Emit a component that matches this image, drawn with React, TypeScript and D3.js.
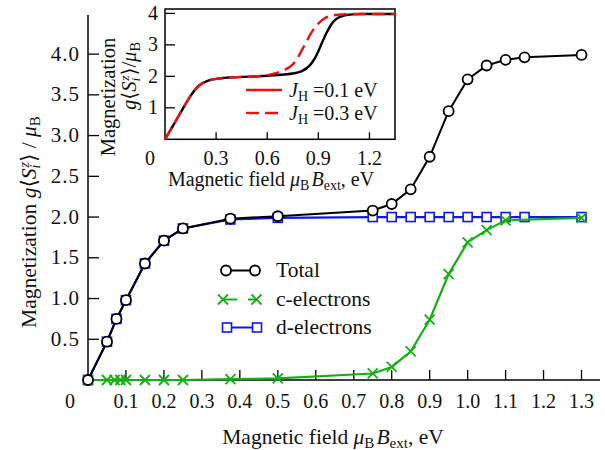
import React from 'react';
import * as d3 from 'd3';

// main panel: magnetization vs field
const totalField = [0, 0.05, 0.075, 0.1, 0.15, 0.2, 0.25, 0.375, 0.5, 0.75, 0.8, 0.85, 0.9, 0.95, 1.0, 1.05, 1.1, 1.15, 1.3];
const totalMag = [0, 0.47, 0.75, 0.98, 1.43, 1.71, 1.86, 1.98, 2.01, 2.08, 2.16, 2.34, 2.74, 3.3, 3.69, 3.86, 3.93, 3.96, 3.99];

const cField = [0, 0.05, 0.07, 0.085, 0.1, 0.15, 0.2, 0.25, 0.375, 0.5, 0.75, 0.8, 0.85, 0.9, 0.95, 1.0, 1.05, 1.1, 1.3];
const cMag = [0, 0, 0, 0, 0, 0, 0, 0, 0.01, 0.02, 0.08, 0.16, 0.35, 0.74, 1.3, 1.69, 1.84, 1.96, 1.99];

const dField = [0, 0.05, 0.075, 0.1, 0.15, 0.2, 0.25, 0.375, 0.5, 0.75, 0.8, 0.85, 0.9, 0.95, 1.0, 1.05, 1.1, 1.15, 1.3];
const dMag = [0, 0.47, 0.75, 0.98, 1.43, 1.71, 1.86, 1.97, 1.99, 2.0, 2.0, 2.0, 2.0, 2.0, 2.0, 2.0, 2.0, 2.0, 2.0];

const xTicks = [0.1, 0.2, 0.3, 0.4, 0.5, 0.6, 0.7, 0.8, 0.9, 1.0, 1.1, 1.2, 1.3];
const yTicks = [0.5, 1.0, 1.5, 2.0, 2.5, 3.0, 3.5, 4.0];

// inset: two Hund couplings
const jh1Field = [0, 0.05, 0.1, 0.15, 0.2, 0.25, 0.3, 0.35, 0.4, 0.5, 0.6, 0.7, 0.75, 0.8, 0.85, 0.88, 0.9, 0.92, 0.95, 0.98, 1.0, 1.05, 1.1, 1.15, 1.2, 1.35];
const jh1Mag = [0, 0.46, 0.93, 1.38, 1.71, 1.86, 1.92, 1.95, 1.97, 1.99, 2.02, 2.06, 2.09, 2.16, 2.35, 2.58, 2.8, 3.05, 3.4, 3.68, 3.8, 3.93, 3.97, 3.98, 3.98, 3.98];
const jh3Field = [0, 0.05, 0.1, 0.15, 0.2, 0.25, 0.3, 0.4, 0.5, 0.6, 0.65, 0.7, 0.75, 0.78, 0.8, 0.83, 0.86, 0.9, 0.95, 1.0, 1.05, 1.1, 1.35];
const jh3Mag = [0, 0.46, 0.93, 1.38, 1.71, 1.86, 1.92, 1.97, 1.99, 2.04, 2.1, 2.2, 2.38, 2.6, 2.8, 3.1, 3.4, 3.68, 3.88, 3.95, 3.97, 3.98, 3.98];

const insetXTicks = [0.3, 0.6, 0.9, 1.2];
const insetYTicks = [1, 2, 3, 4];

const GREEN = '#16ae16';
const BLUE = '#0c18ee';
const RED = '#ee1111';
const FONT = "'Liberation Serif', 'DejaVu Serif', serif";

const zip = (xs: number[], ys: number[]) => xs.map((x, i) => [x, ys[i]] as [number, number]);

const Cross = ({ x, y }: { x: number; y: number }) => (
  <path d={`M${x - 5},${y - 5}L${x + 5},${y + 5}M${x - 5},${y + 5}L${x + 5},${y - 5}`} stroke={GREEN} strokeWidth={1.8} fill="none" />
);

const Square = ({ x, y }: { x: number; y: number }) => (
  <rect x={x - 4.5} y={y - 4.5} width={9} height={9} fill="white" stroke={BLUE} strokeWidth={1.6} />
);

const Circle = ({ x, y }: { x: number; y: number }) => (
  <circle cx={x} cy={y} r={5} fill="white" stroke="black" strokeWidth={1.8} />
);

const FieldLabel = ({ x, y, size }: { x: number; y: number; size: number }) => (
  <text x={x} y={y} textAnchor="middle" fontSize={size}>
    Magnetic field <tspan fontStyle="italic">μ</tspan>
    <tspan fontSize={size * 0.7} dy={4}>B</tspan>
    <tspan fontStyle="italic" dy={-4} dx={2}>B</tspan>
    <tspan fontSize={size * 0.7} dy={4}>ext</tspan>
    <tspan dy={-4}>, eV</tspan>
  </text>
);

const MagSymbol = ({ size, gap }: { size: number; gap: boolean }) => (
  <>
    <tspan fontStyle="italic">g</tspan>⟨<tspan fontStyle="italic">S</tspan>
    <tspan fontSize={size * 0.65} fontStyle="italic" dy={4}>i</tspan>
    <tspan fontSize={size * 0.65} fontStyle="italic" dy={-11} dx={-3}>z</tspan>
    <tspan dy={7}>{gap ? '⟩ / ' : '⟩/'}</tspan>
    <tspan fontStyle="italic">μ</tspan>
    <tspan fontSize={size * 0.7} dy={4}>B</tspan>
  </>
);

export default function App() {
  const x = d3.scaleLinear().domain([0, 1.35]).range([88, 600.5]);
  const y = d3.scaleLinear().domain([0, 4.48]).range([380, 15]);

  const ix = d3.scaleLinear().domain([0, 1.35]).range([165, 395]);
  const iy = d3.scaleLinear().domain([0, 4.14]).range([139.3, 9]);

  const line = d3.line<[number, number]>().x(d => x(d[0])).y(d => y(d[1]));
  const iline = d3.line<[number, number]>().x(d => ix(d[0])).y(d => iy(d[1])).curve(d3.curveMonotoneX);

  const total = zip(totalField, totalMag);
  const cEl = zip(cField, cMag);
  const dEl = zip(dField, dMag);

  return (
    <svg width={605} height={450} style={{ position: 'absolute', left: 0, top: 0, background: 'white', fontFamily: FONT }} fill="#111">
      {/* main axes */}
      <line x1={x(0)} x2={x(0)} y1={y(0)} y2={15} stroke="black" strokeWidth={1.5} />
      <line x1={x(0)} x2={600} y1={y(0)} y2={y(0)} stroke="black" strokeWidth={1.5} />
      {xTicks.map(t => (
        <g key={'xt' + t}>
          <line x1={x(t)} x2={x(t)} y1={y(0)} y2={y(0) - 10} stroke="black" strokeWidth={1.3} />
          <text x={x(t)} y={408} textAnchor="middle" fontSize={20}>{t.toFixed(1)}</text>
        </g>
      ))}
      <text x={70} y={408} textAnchor="middle" fontSize={20}>0</text>
      {yTicks.map(t => (
        <g key={'yt' + t}>
          <line x1={x(0)} x2={x(0) + 11} y1={y(t)} y2={y(t)} stroke="black" strokeWidth={1.3} />
          <text x={80} y={y(t) + 6.5} textAnchor="end" fontSize={21} letterSpacing={1}>{t.toFixed(1)}</text>
        </g>
      ))}
      <FieldLabel x={333} y={444} size={21.5} />
      <text transform="translate(36,222) rotate(-90)" textAnchor="middle" fontSize={21.5}>
        Magnetization <MagSymbol size={21.5} gap={true} />
      </text>

      {/* series */}
      <path d={line(dEl) || ''} fill="none" stroke={BLUE} strokeWidth={2.2} />
      {dEl.map((p, i) => <Square key={'d' + i} x={x(p[0])} y={y(p[1])} />)}
      <path d={line(cEl) || ''} fill="none" stroke={GREEN} strokeWidth={2.2} />
      {cEl.map((p, i) => <Cross key={'c' + i} x={x(p[0])} y={y(p[1])} />)}
      <path d={line(total) || ''} fill="none" stroke="black" strokeWidth={2} />
      {total.map((p, i) => <Circle key={'t' + i} x={x(p[0])} y={y(p[1])} />)}

      {/* legend */}
      <line x1={226} x2={255} y1={270.5} y2={270.5} stroke="black" strokeWidth={2} />
      <Circle x={226} y={270.5} />
      <Circle x={255} y={270.5} />
      <text x={276} y={277} fontSize={21.5}>Total</text>
      <line x1={223} x2={237} y1={299.5} y2={299.5} stroke={GREEN} strokeWidth={2} />
      <line x1={248} x2={257} y1={299.5} y2={299.5} stroke={GREEN} strokeWidth={2} />
      <Cross x={223} y={299.5} />
      <Cross x={256.5} y={299.5} />
      <text x={276} y={306} fontSize={21.5}>c-electrons</text>
      <line x1={227} x2={257} y1={327.5} y2={327.5} stroke={BLUE} strokeWidth={2} />
      <Square x={227} y={327.5} />
      <Square x={257} y={327.5} />
      <text x={276} y={334} fontSize={21.5}>d-electrons</text>

      {/* inset */}
      <rect x={165} y={9} width={230} height={130.3} fill="white" stroke="black" strokeWidth={1.5} />
      {insetXTicks.map(t => (
        <g key={'ixt' + t}>
          <line x1={ix(t)} x2={ix(t)} y1={iy(0)} y2={iy(0) - 7} stroke="black" strokeWidth={1.3} />
          <text x={ix(t)} y={165} textAnchor="middle" fontSize={20}>{t.toFixed(1)}</text>
        </g>
      ))}
      <text x={150} y={165} textAnchor="middle" fontSize={20}>0</text>
      {insetYTicks.map(t => (
        <g key={'iyt' + t}>
          <line x1={ix(0)} x2={ix(0) + 10} y1={iy(t)} y2={iy(t)} stroke="black" strokeWidth={1.3} />
          <text x={158} y={iy(t) + 6.5} textAnchor="end" fontSize={20}>{t}</text>
        </g>
      ))}
      <path d={iline(zip(jh1Field, jh1Mag)) || ''} fill="none" stroke="black" strokeWidth={2.4} />
      <path d={iline(zip(jh3Field, jh3Mag)) || ''} fill="none" stroke={RED} strokeWidth={2.4} strokeDasharray="13,6" />
      <line x1={246} x2={282} y1={90} y2={90} stroke={RED} strokeWidth={2.4} />
      <line x1={246} x2={282} y1={113} y2={113} stroke={RED} strokeWidth={2.4} strokeDasharray="13,6" />
      <text x={289} y={96.5} fontSize={20}>
        <tspan fontStyle="italic">J</tspan><tspan fontSize={14} dy={4}>H</tspan><tspan dy={-4}> =0.1 eV</tspan>
      </text>
      <text x={289} y={119.5} fontSize={20}>
        <tspan fontStyle="italic">J</tspan><tspan fontSize={14} dy={4}>H</tspan><tspan dy={-4}> =0.3 eV</tspan>
      </text>
      <FieldLabel x={271} y={186} size={20} />
      <text transform="translate(115,97) rotate(-90)" textAnchor="middle" fontSize={20.5}>Magnetization</text>
      <text transform="translate(136,76) rotate(-90)" textAnchor="middle" fontSize={20.5}>
        <MagSymbol size={20.5} gap={false} />
      </text>
    </svg>
  );
}
